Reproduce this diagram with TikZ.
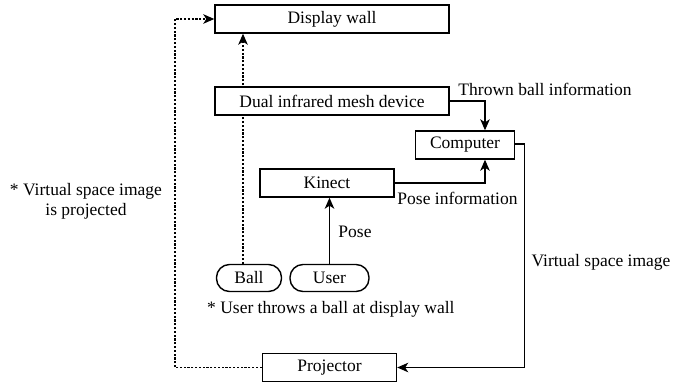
\documentclass[tikz,border=0pt]{standalone}
\usepackage{fontspec}
\setmainfont{Liberation Serif}
\usetikzlibrary{arrows.meta,backgrounds}
\begin{document}
\begin{tikzpicture}[x=1pt,y=-1pt,
  font=\fontsize{17.5}{19.5}\selectfont,
  every node/.style={inner sep=0pt},
  box/.style={draw,line width=1.4pt,fill=white,minimum height=28pt,anchor=center},
  pill/.style={draw,line width=1.4pt,fill=white,minimum height=27pt,rounded corners=13pt},
  arr/.style={line width=1.4pt,-{Stealth[length=11pt,width=9.5pt,inset=3pt]}},
  dotarr/.style={line width=1.4pt,dash pattern=on 2.2pt off 1.6pt,-{Stealth[length=11pt,width=9.5pt,inset=3pt]}},
  lbl/.style={inner sep=0pt}]
\useasboundingbox (0,0) rectangle (674,383);
\node[box,minimum width=234pt] (disp) at (332,19) {Display wall};
\node[box,minimum width=234pt] (dual) at (332,101) {Dual infrared mesh device};
\node[box,minimum width=99pt] (comp) at (465,145) {Computer};
\node[box,minimum width=134pt] (kin) at (327,183) {Kinect};
\node[pill,minimum width=65pt] (ball) at (249,278) {Ball};
\node[pill,minimum width=79pt] (user) at (329.5,278) {User};
\node[box,minimum width=134pt] (proj) at (329.5,367.5) {Projector};
\begin{scope}[on background layer]
\draw[dotarr] ([xshift=-6pt]ball.north) -- ([xshift=-6pt]ball.north |- disp.south);
\end{scope}
\draw[arr] (dual.east) -| ([xshift=20pt]comp.north);
\draw[arr] (kin.east) -| ([xshift=20pt]comp.south);
\draw[arr] (user.north) -- (user.north |- kin.south);
\draw[arr] ([yshift=1pt]comp.east) -- ++(9.5,0) |- (proj.east);
\draw[dotarr] (proj.west) -- ++(-87,0) |- (disp.west);
\node[lbl] (tbi) at (545,89) {Thrown ball information};
\node[lbl] (pinf) at (457.5,198) {Pose information};
\node[lbl] (pose) at (355,232) {Pose};
\node[lbl] (vsi) at (601,262) {Virtual space image};
\node[lbl,anchor=west] (thr) at (207,309) {* User throws a ball at display wall};
\node[lbl,align=center] (proj-note) at (86,201.5) {* Virtual space image\\is projected};
\end{tikzpicture}
\end{document}
